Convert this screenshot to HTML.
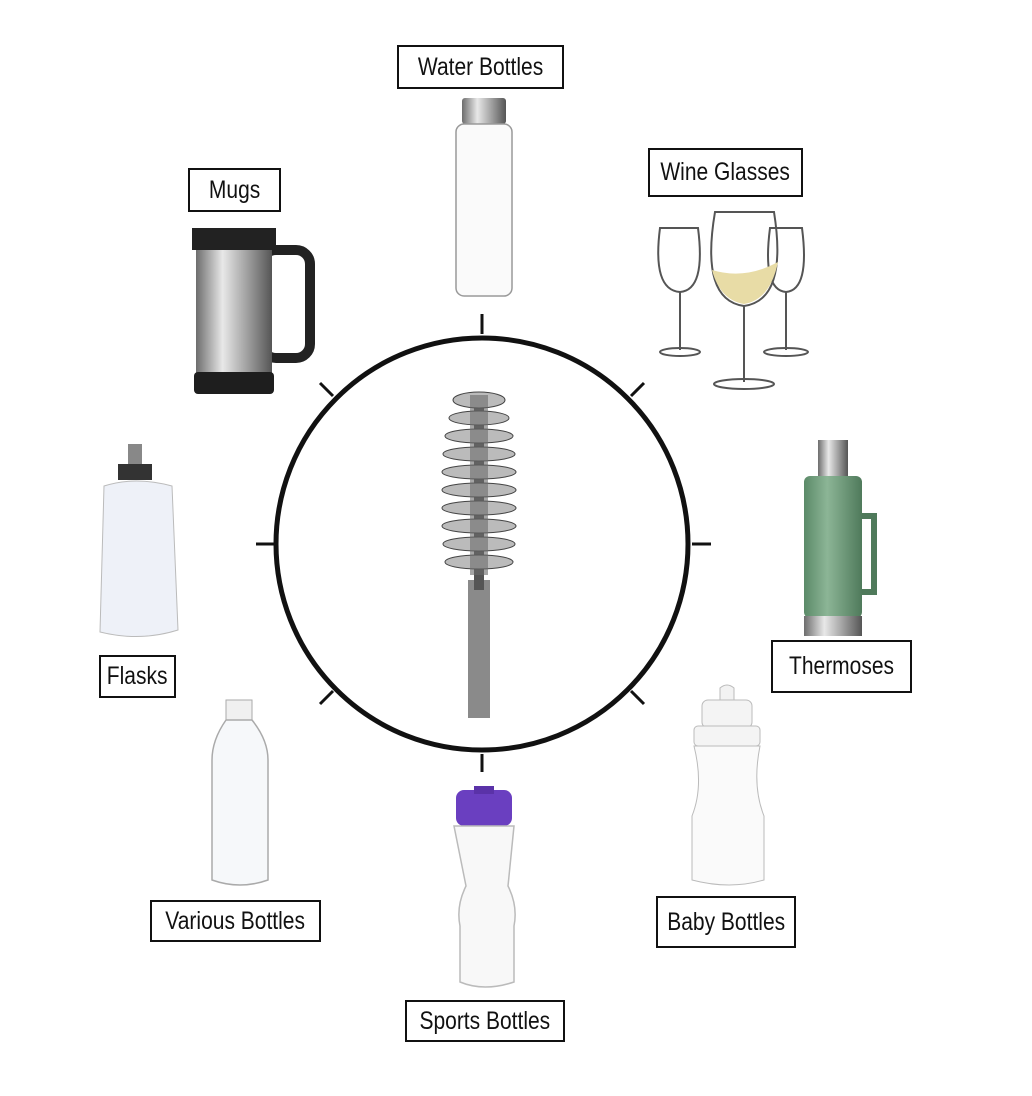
<!DOCTYPE html>
<html><head><meta charset="utf-8"><style>
html,body{margin:0;padding:0;background:#fff;}
.wrap{position:relative;width:1032px;height:1096px;overflow:hidden;background:#fff;}
.lb{position:absolute;border:2px solid #111;background:#fff;box-sizing:border-box;font-family:"Liberation Sans",sans-serif;font-size:25px;color:#111;display:flex;align-items:center;justify-content:center;white-space:nowrap;}
.lb span{display:inline-block;transform:scaleX(0.84);}
svg{position:absolute;left:0;top:0;}
</style></head><body><div class="wrap">
<svg width="1032" height="1096" viewBox="0 0 1032 1096">
<defs>
<linearGradient id="steel" x1="0" x2="1"><stop offset="0" stop-color="#6d6d6d"/><stop offset="0.35" stop-color="#e8e8e8"/><stop offset="0.7" stop-color="#9a9a9a"/><stop offset="1" stop-color="#555"/></linearGradient>
<linearGradient id="green" x1="0" x2="1"><stop offset="0" stop-color="#5b8a68"/><stop offset="0.4" stop-color="#8cb596"/><stop offset="1" stop-color="#4f7a5b"/></linearGradient>
</defs>
<circle cx="482" cy="544" r="206" fill="none" stroke="#111" stroke-width="5"/>
<g stroke="#111" stroke-width="3">
<line x1="482" y1="314" x2="482" y2="334"/><line x1="482" y1="754" x2="482" y2="772"/>
<line x1="256" y1="544" x2="274" y2="544"/><line x1="692" y1="544" x2="711" y2="544"/>
<line x1="320" y1="383" x2="333" y2="396"/><line x1="644" y1="383" x2="631" y2="396"/>
<line x1="320" y1="704" x2="333" y2="691"/><line x1="644" y1="704" x2="631" y2="691"/>
</g>
<rect x="468" y="580" width="22" height="138" fill="#8a8a8a"/>
<rect x="474" y="400" width="10" height="190" fill="#555"/>
<g fill="#bbb" stroke="#444" stroke-width="1">
<ellipse cx="479" cy="400" rx="26" ry="8"/>
<ellipse cx="479" cy="418" rx="30" ry="7"/>
<ellipse cx="479" cy="436" rx="34" ry="7"/>
<ellipse cx="479" cy="454" rx="36" ry="7"/>
<ellipse cx="479" cy="472" rx="37" ry="7"/>
<ellipse cx="479" cy="490" rx="37" ry="7"/>
<ellipse cx="479" cy="508" rx="37" ry="7"/>
<ellipse cx="479" cy="526" rx="37" ry="7"/>
<ellipse cx="479" cy="544" rx="36" ry="7"/>
<ellipse cx="479" cy="562" rx="34" ry="7"/>
</g>
<rect x="470" y="395" width="18" height="180" fill="#6a6a6a" opacity="0.6"/>
<rect x="462" y="98" width="44" height="26" rx="3" fill="url(#steel)"/>
<rect x="456" y="124" width="56" height="172" rx="8" fill="#fafafa" stroke="#999" stroke-width="1.5"/>
<rect x="262" y="250" width="48" height="108" rx="14" fill="none" stroke="#222" stroke-width="10"/>
<rect x="192" y="228" width="84" height="22" fill="#222"/>
<rect x="196" y="250" width="76" height="124" fill="url(#steel)"/>
<rect x="194" y="372" width="80" height="22" rx="4" fill="#1e1e1e"/>
<g fill="none" stroke="#555" stroke-width="2">
<path d="M660 228 Q652 290 680 292 Q706 290 698 228 Z"/><line x1="680" y1="292" x2="680" y2="350"/><ellipse cx="680" cy="352" rx="20" ry="4"/>
<path d="M770 228 Q762 290 786 292 Q810 290 802 228 Z"/><line x1="786" y1="292" x2="786" y2="350"/><ellipse cx="786" cy="352" rx="22" ry="4"/>
<path d="M715 212 Q700 300 744 306 Q788 300 774 212 Z"/><line x1="744" y1="306" x2="744" y2="382"/><ellipse cx="744" cy="384" rx="30" ry="5"/>
</g>
<path d="M712 270 Q720 300 744 304 Q770 300 778 262 Q745 280 712 270 Z" fill="#e8dca6"/>
<rect x="818" y="440" width="30" height="38" fill="url(#steel)"/>
<rect x="804" y="476" width="58" height="142" rx="6" fill="url(#green)"/>
<path d="M862 516 h12 v76 h-12" fill="none" stroke="#4f7a5b" stroke-width="6"/>
<rect x="804" y="616" width="58" height="20" fill="url(#steel)"/>
<rect x="128" y="444" width="14" height="24" fill="#888"/>
<rect x="118" y="464" width="34" height="16" fill="#333"/>
<path d="M104 486 Q135 476 172 486 L178 630 Q140 642 100 632 Z" fill="#eef1f8" stroke="#bbb"/>
<rect x="226" y="700" width="26" height="20" fill="#f0f0f0" stroke="#aaa"/>
<path d="M226 720 Q212 740 212 760 L212 880 Q240 890 268 880 L268 760 Q268 740 252 720 Z" fill="#f6f8fa" stroke="#aaa" stroke-width="1.5"/>
<rect x="456" y="790" width="56" height="36" rx="8" fill="#6a3fc0"/>
<rect x="474" y="786" width="20" height="8" fill="#5a32a8"/>
<path d="M454 826 h60 l-6 60 q10 20 6 40 l0 56 q-30 10 -54 0 l0 -56 q-4 -20 6 -40 Z" fill="#f8f8f8" stroke="#bbb" stroke-width="1.5"/>
<path d="M720 688 q7 -6 14 0 v14 h-14 Z" fill="#f2f2f2" stroke="#bbb"/>
<rect x="702" y="700" width="50" height="28" rx="6" fill="#f4f4f4" stroke="#bbb"/>
<rect x="694" y="726" width="66" height="20" rx="4" fill="#f4f4f4" stroke="#bbb"/>
<path d="M694 746 h66 q-8 40 4 70 v64 q-34 10 -72 0 v-64 q12 -30 2 -70 Z" fill="#fafafa" stroke="#bbb"/>
</svg>
<div class="lb" style="left:397px;top:45px;width:167px;height:44px;"><span>Water Bottles</span></div>
<div class="lb" style="left:188px;top:168px;width:93px;height:44px;"><span>Mugs</span></div>
<div class="lb" style="left:648px;top:148px;width:155px;height:49px;"><span>Wine Glasses</span></div>
<div class="lb" style="left:771px;top:640px;width:141px;height:53px;"><span>Thermoses</span></div>
<div class="lb" style="left:99px;top:655px;width:77px;height:43px;"><span>Flasks</span></div>
<div class="lb" style="left:150px;top:900px;width:171px;height:42px;"><span>Various Bottles</span></div>
<div class="lb" style="left:656px;top:896px;width:140px;height:52px;"><span>Baby Bottles</span></div>
<div class="lb" style="left:405px;top:1000px;width:160px;height:42px;"><span>Sports Bottles</span></div>
</div></body></html>
